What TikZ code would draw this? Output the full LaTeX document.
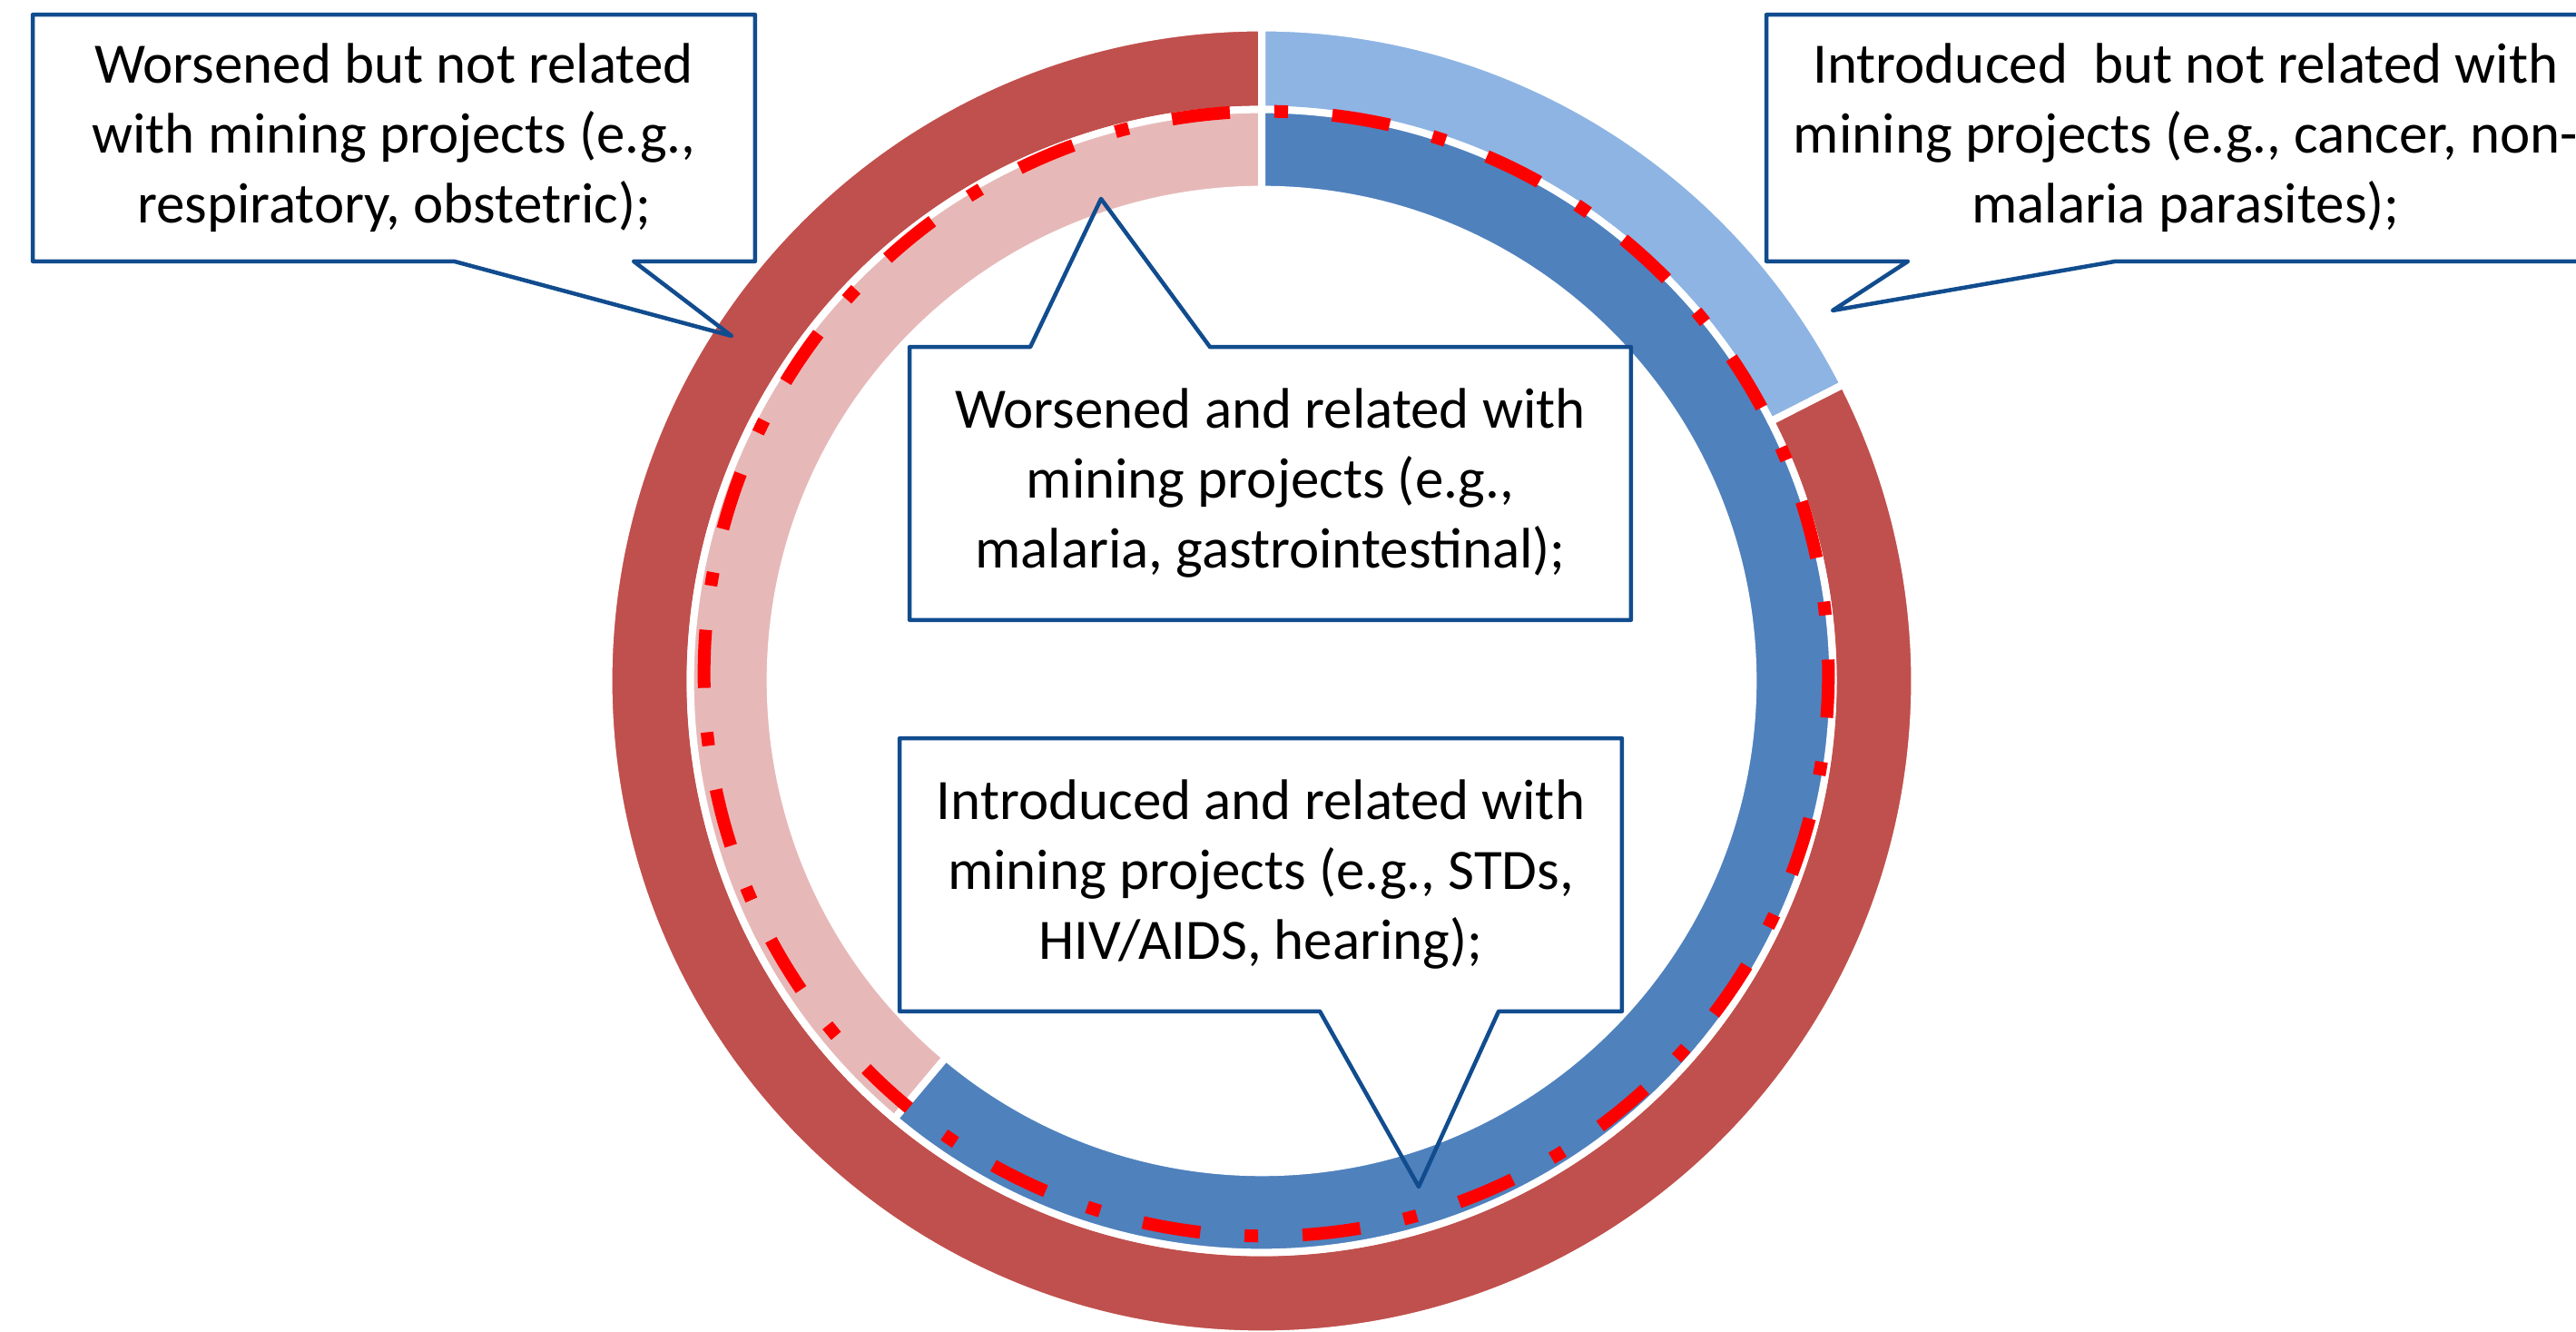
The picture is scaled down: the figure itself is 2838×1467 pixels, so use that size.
\documentclass[tikz,border=0pt]{standalone}
\usepackage{fontspec}
\setmainfont{Carlito}
\usetikzlibrary{calc}
\definecolor{ringred}{HTML}{C0504D}
\definecolor{lightblue}{HTML}{8EB4E3}
\definecolor{pinkring}{HTML}{E6B9B8}
\definecolor{darkblue}{HTML}{4F81BD}
\definecolor{calloutline}{HTML}{114C8E}
\definecolor{dashred}{HTML}{FF0000}
\tikzset{
  sector/.style={draw=white, line width=0.08cm},
  dashcircle/.style={draw=dashred, line width=0.14cm,
     dash pattern=on 0.15cm off 0.489cm on 0.64cm off 0.489cm},
  calloutbox/.style={fill=white, inner sep=0pt, align=center,
     font=\fontsize{17.9pt}{21.9pt}\selectfont, text=black},
  calloutedge/.style={draw=calloutline, line width=0.045cm, line join=round}
}
\begin{document}
\begin{tikzpicture}[x=0.01cm,y=0.01cm]
\useasboundingbox (0,0) rectangle (2838,1467);
\clip (0,0) rectangle (2838,1467);
\fill[white] (0,0) rectangle (2838,1467);

% ring centre
\coordinate (C) at (1390,717);
\coordinate (D) at (1395,725);

% outer ring
\fill[lightblue, sector] ($(C)+(27:7.19cm)$) arc[start angle=27, end angle=90, radius=7.19cm]
  -- ($(C)+(90:6.29cm)$) arc[start angle=90, end angle=27, radius=6.29cm] -- cycle;
\fill[ringred, sector] ($(C)+(90:7.19cm)$) arc[start angle=90, end angle=387, radius=7.19cm]
  -- ($(C)+(387:6.29cm)$) arc[start angle=387, end angle=90, radius=6.29cm] -- cycle;
% inner ring
\fill[pinkring, sector] ($(C)+(90:6.29cm)$) arc[start angle=90, end angle=230, radius=6.29cm]
  -- ($(C)+(230:5.41cm)$) arc[start angle=230, end angle=90, radius=5.41cm] -- cycle;
\fill[darkblue, sector] ($(C)+(230:6.29cm)$) arc[start angle=230, end angle=450, radius=6.29cm]
  -- ($(C)+(450:5.41cm)$) arc[start angle=450, end angle=230, radius=5.41cm] -- cycle;

% dash-dot circle
\draw[dashcircle] ($(D)+(89.17:6.19cm)$) arc[start angle=89.17, end angle=-270.83, radius=6.19cm];

% callout 1
\node[calloutbox, minimum width=7.94cm, minimum height=2.70cm] (b1) at (434,1315)
  {Worsened but not related\\with mining projects (e.g.,\\respiratory, obstetric);};
\coordinate (t1) at (806,1097);
\draw[calloutedge] (b1.north west) -- (b1.north east) -- (b1.south east)
  -- ($(b1.south west)+(662,0)$) -- (t1) -- ($(b1.south west)+(464,0)$) -- (b1.south west) -- cycle;

% callout 2
\node[calloutbox, minimum width=9.22cm, minimum height=2.70cm] (b2) at (2408,1315)
  {Introduced\ \ but not related with\\mining projects (e.g., cancer, non-\\malaria parasites);};
\coordinate (t2) at (2019,1125);
\draw[calloutedge] (b2.north west) -- (b2.north east) -- (b2.south east)
  -- ($(b2.south west)+(385,0)$) -- (t2) -- ($(b2.south west)+(156,0)$) -- (b2.south west) -- cycle;

% callout 3
\node[calloutbox, minimum width=7.93cm, minimum height=2.99cm] (b3) at (1399.5,934.5)
  {Worsened and related with\\mining projects (e.g.,\\malaria, gastrointestinal);};
\coordinate (t3) at (1213,1248);
\draw[calloutedge] (b3.north west) -- ($(b3.north west)+(133,0)$) -- (t3)
  -- ($(b3.north west)+(331,0)$) -- (b3.north east) -- (b3.south east) -- (b3.south west) -- cycle;

% callout 4
\node[calloutbox, minimum width=7.94cm, minimum height=2.99cm] (b4) at (1389,503.5)
  {Introduced and related with\\mining projects (e.g., STDs,\\HIV/AIDS, hearing);};
\coordinate (t4) at (1563,160);
\draw[calloutedge] (b4.north west) -- (b4.north east) -- (b4.south east)
  -- ($(b4.south west)+(660,0)$) -- (t4) -- ($(b4.south west)+(463,0)$) -- (b4.south west) -- cycle;
\end{tikzpicture}
\end{document}
